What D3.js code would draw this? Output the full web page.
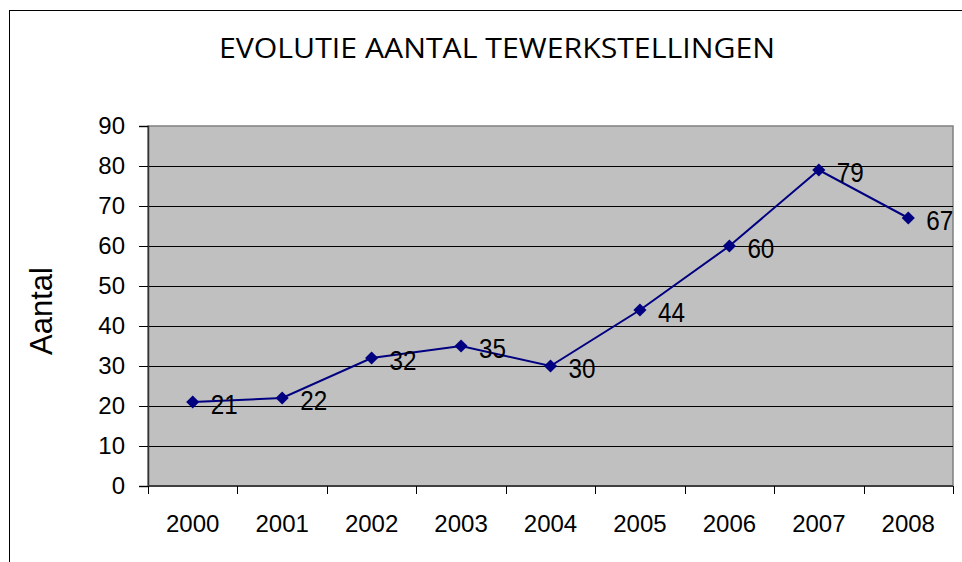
<!DOCTYPE html>
<html>
<head>
<meta charset="utf-8">
<script src="https://cdn.jsdelivr.net/npm/d3@7"></script>
<style>
  body { margin: 0; background: #fff; }
  text { font-family: "Liberation Sans", Arial, sans-serif; fill: #000; }
</style>
</head>
<body>
<div id="chart"></div>
<script>
const years = ["2000", "2001", "2002", "2003", "2004", "2005", "2006", "2007", "2008"];
const values = [21, 22, 32, 35, 30, 44, 60, 79, 67];
const yTicks = [0, 10, 20, 30, 40, 50, 60, 70, 80, 90];

const width = 962, height = 562;
const svg = d3.select('#chart').append("svg")
    .attr("width", width)
    .attr("height", height);

// outer chart frame (runs off the right/bottom edge)
svg.append("rect")
    .attr("x", 9.5).attr("y", 10.5)
    .attr("width", 1000).attr("height", 1000)
    .attr("fill", "#fff")
    .attr("stroke", "#000");

const plot = {left: 148, top: 126, right: 953, bottom: 486};

const x = d3.scaleBand()
    .domain(years)
    .range([plot.left, plot.right]);
const y = d3.scaleLinear()
    .domain([0, 90])
    .range([plot.bottom, plot.top]);

svg.append("rect")
    .attr("x", plot.left).attr("y", plot.top)
    .attr("width", plot.right - plot.left)
    .attr("height", plot.bottom - plot.top)
    .attr("fill", "#c0c0c0")
    .attr("stroke", "#808080")
    .attr("stroke-width", 1.5);

// gridlines
svg.append("g")
    .selectAll("line")
    .data(yTicks.filter(d => d > 0 && d < 90))
    .enter().append("line")
    .attr("x1", plot.left).attr("x2", plot.right)
    .attr("y1", d => Math.round(y(d)) + 0.5)
    .attr("y2", d => Math.round(y(d)) + 0.5)
    .attr("stroke", "#000");

// y axis
const yAxis = svg.append("g")
    .attr("transform", "translate(" + plot.left + ",0)")
    .call(d3.axisLeft(y).tickValues(yTicks).tickSize(9).tickPadding(14));
yAxis.select(".domain").attr("stroke", "#333").attr("stroke-width", 1.5);
yAxis.selectAll(".tick line").attr("stroke", "#000");
yAxis.selectAll("text")
    .attr("font-size", 24)
    .attr("fill", "#000");

// x axis: ticks at category boundaries
const xAxis = svg.append("g")
    .attr("transform", "translate(0," + plot.bottom + ")");
xAxis.append("line")
    .attr("x1", plot.left).attr("x2", plot.right)
    .attr("y1", 0).attr("y2", 0)
    .attr("stroke", "#404040")
    .attr("stroke-width", 2);
xAxis.selectAll(".xtick")
    .data(years.concat(["end"]))
    .enter().append("line")
    .attr("class", "xtick")
    .attr("x1", (d, i) => Math.round(plot.left + i * x.bandwidth()) + 0.5)
    .attr("x2", (d, i) => Math.round(plot.left + i * x.bandwidth()) + 0.5)
    .attr("y1", 0).attr("y2", 8)
    .attr("stroke", "#000");
xAxis.selectAll(".xlabel")
    .data(years)
    .enter().append("text")
    .attr("class", "xlabel")
    .attr("x", d => x(d) + x.bandwidth() / 2)
    .attr("y", 46)
    .attr("text-anchor", "middle")
    .attr("font-size", 24)
    .text(d => d);

// series line
const pts = years.map((d, i) => ({year: d, value: values[i]}));
const cx = d => x(d.year) + x.bandwidth() / 2;

svg.append("path")
    .datum(pts)
    .attr("fill", "none")
    .attr("stroke", "#000080")
    .attr("stroke-width", 2)
    .attr("d", d3.line().x(cx).y(d => y(d.value)));

svg.append("g")
    .selectAll("path")
    .data(pts)
    .enter().append("path")
    .attr("d", d3.symbol().type(d3.symbolDiamond2).size(110))
    .attr("transform", d => "translate(" + cx(d) + "," + y(d.value) + ")")
    .attr("fill", "#000080");

// data labels
svg.append("g")
    .selectAll("text")
    .data(pts)
    .enter().append("text")
    .attr("x", d => cx(d) + 18)
    .attr("y", d => y(d.value) + 12)
    .attr("font-size", 28)
    .attr("textLength", 27)
    .attr("lengthAdjust", "spacingAndGlyphs")
    .text(d => d.value);

// title
svg.append("text")
    .attr("x", 497)
    .attr("y", 58)
    .attr("text-anchor", "middle")
    .style("font-family", "'Open Sans', 'DejaVu Sans', sans-serif")
    .attr("font-size", 27)
    .attr("textLength", 556)
    .attr("lengthAdjust", "spacingAndGlyphs")
    .text("EVOLUTIE AANTAL TEWERKSTELLINGEN");

// y axis title
svg.append("text")
    .attr("transform", "translate(52,311) rotate(-90)")
    .attr("text-anchor", "middle")
    .attr("font-size", 31)
    .text("Aantal");
</script>
</body>
</html>
